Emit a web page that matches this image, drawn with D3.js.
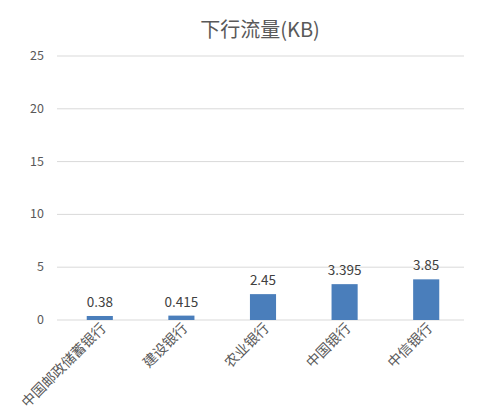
<!DOCTYPE html>
<html><head><meta charset="utf-8">
<script src="https://cdn.jsdelivr.net/npm/d3@7"></script>
<style>body{margin:0;background:#fff}text{font-family:"Noto Sans CJK SC","Noto Sans",sans-serif}</style>
</head><body><svg id="c" width="478" height="411"></svg>
<script>
const categories=["中国邮政储蓄银行","建设银行","农业银行","中国银行","中信银行"];
const values=[0.38,0.415,2.45,3.395,3.85];
const labels=["0.38","0.415","2.45","3.395","3.85"];
const yTicks=[0,5,10,15,20,25];
const svg=d3.select("#c");
const x=d3.scaleBand().domain(categories).range([59,467]).paddingInner(0.68).paddingOuter(0.34);
const y=d3.scaleLinear().domain([0,25]).range([320,56]);
svg.append("text").attr("x",260).attr("y",37).attr("text-anchor","middle").attr("font-size",20).attr("fill","#595959").text("下行流量(KB)");
const g=svg.append("g");
yTicks.forEach(t=>{
 g.append("line").attr("x1",57).attr("x2",464).attr("y1",y(t)).attr("y2",y(t)).attr("stroke","#d9d9d9");
 g.append("text").attr("x",44).attr("y",y(t)+4).attr("text-anchor","end").attr("font-size",12.5).attr("fill","#595959").text(t);
});
g.selectAll("rect").data(values).enter().append("rect")
 .attr("x",(d,i)=>x(categories[i])).attr("width",x.bandwidth())
 .attr("y",d=>y(d)).attr("height",d=>y(0)-y(d)).attr("fill","#4a7ebb");
g.selectAll(".v").data(values).enter().append("text")
 .attr("x",(d,i)=>x(categories[i])+x.bandwidth()/2).attr("y",d=>y(d)-9)
 .attr("text-anchor","middle").attr("font-size",13.5).attr("fill","#404040").text((d,i)=>labels[i]);
categories.forEach(c=>{
 const cx=x(c)+x.bandwidth()/2+7;
 g.append("text").attr("transform",`translate(${cx},329) rotate(-45)`).attr("text-anchor","end")
  .attr("font-size",14).attr("fill","#595959").text(c);
});
</script></body></html>
